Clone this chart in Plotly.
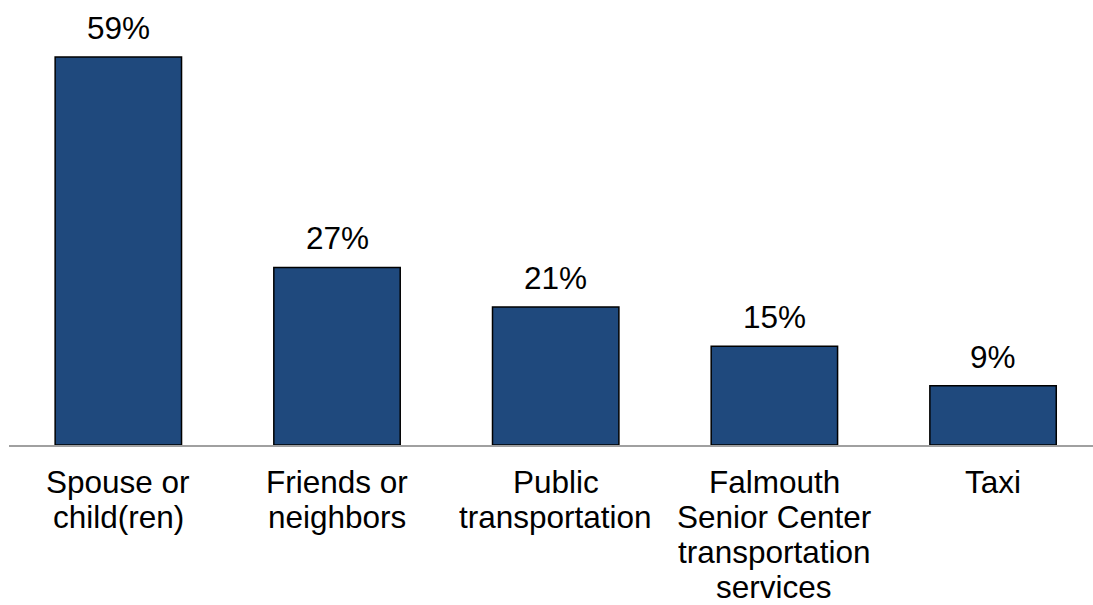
import plotly.graph_objects as go

# Share of respondents by who provides their transportation
categories = [
    "Spouse or<br>child(ren)",
    "Friends or<br>neighbors",
    "Public<br>transportation",
    "Falmouth<br>Senior Center<br>transportation<br>services",
    "Taxi",
]
values = [59, 27, 21, 15, 9]
value_labels = ["59%", "27%", "21%", "15%", "9%"]

FONT = "Liberation Sans, Arial, sans-serif"
FONT_SIZE = 31.5
LINE_STEP = 35  # px between baselines of wrapped category labels

fig = go.Figure(
    go.Bar(
        x=categories,
        y=values,
        width=0.578,
        marker=dict(color="#1f497d", line=dict(color="#000000", width=1.5)),
        hoverinfo="skip",
    )
)

annotations = []
# percentage labels above each bar
for cat, val, lab in zip(categories, values, value_labels):
    annotations.append(
        dict(
            x=cat, y=val, xref="x", yref="y",
            text=lab, showarrow=False,
            xanchor="center", yanchor="bottom", yshift=9,
            font=dict(family=FONT, size=FONT_SIZE, color="#000000"),
        )
    )
# category labels under the axis, one line at a time for tighter leading
for cat in categories:
    for k, line in enumerate(cat.split("<br>")):
        annotations.append(
            dict(
                x=cat, y=0, xref="x", yref="y",
                text=line, showarrow=False, borderpad=0,
                xanchor="center", yanchor="top", yshift=-18 - LINE_STEP * k,
                font=dict(family=FONT, size=FONT_SIZE, color="#000000"),
            )
        )

fig.update_layout(
    width=1093,
    height=605,
    margin=dict(l=9, r=0, t=0, b=160),
    paper_bgcolor="white",
    plot_bgcolor="white",
    showlegend=False,
    annotations=annotations,
    xaxis=dict(
        type="category",
        range=[-0.5, 4.457],
        showticklabels=False,
        ticks="",
        showgrid=False,
        zeroline=False,
        showline=True,
        linecolor="#a0a0a0",
        linewidth=2,
    ),
    yaxis=dict(
        range=[0, 67.67],
        visible=False,
        showgrid=False,
        zeroline=False,
    ),
)

fig.write_html("out.html")
